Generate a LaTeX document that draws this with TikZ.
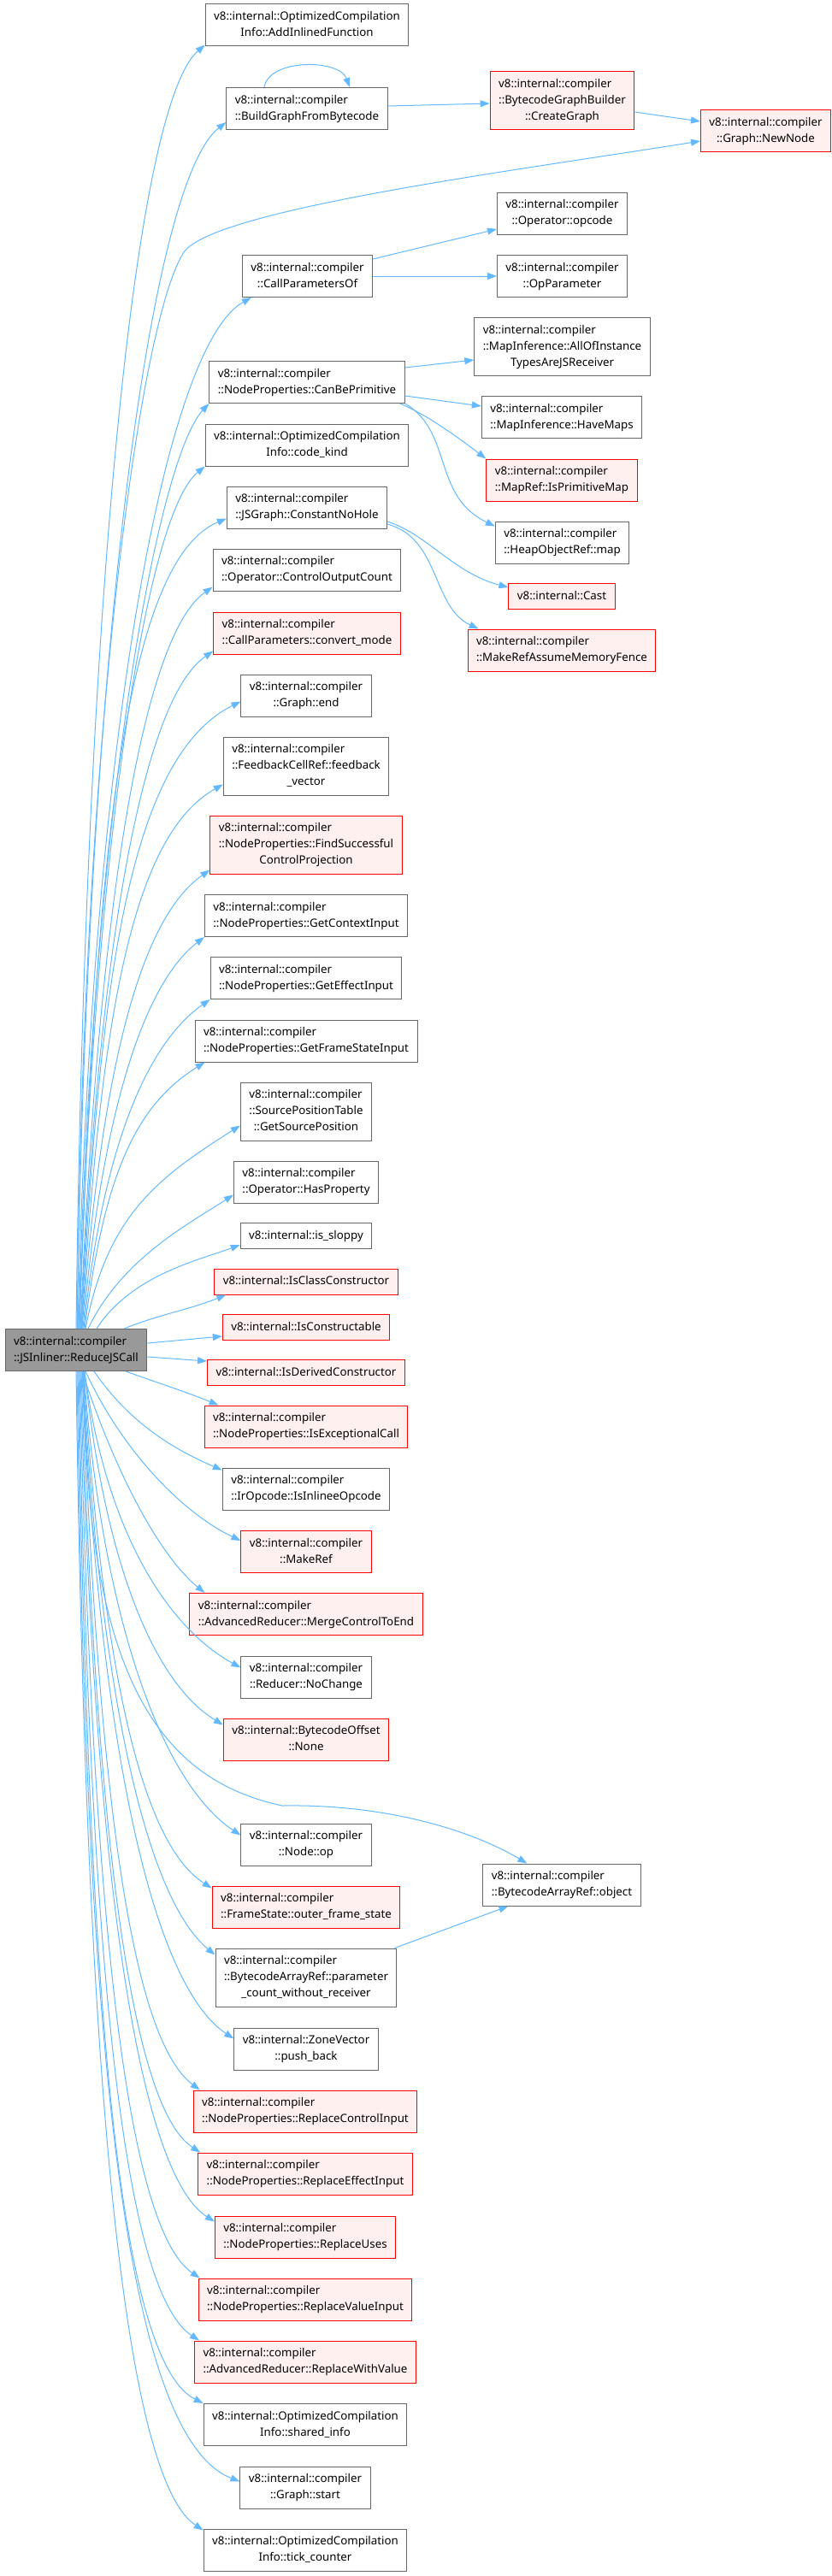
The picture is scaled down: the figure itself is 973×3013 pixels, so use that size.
\documentclass[tikz,border=0pt]{standalone}
\usepackage{fontspec}
\setmainfont{Noto Sans}
\usepackage{xcolor}
\usepackage{tikz}
\usetikzlibrary{arrows.meta,calc}
\definecolor{edgeblue}{HTML}{63B8FF}
\definecolor{nodeedge}{HTML}{666666}
\definecolor{rootfill}{HTML}{999999}
\definecolor{redfill}{HTML}{FFF0F0}
\definecolor{rededge}{HTML}{FF0000}
\newcommand{\lastln}[1]{\multicolumn{1}{@{}c@{}}{#1}}
\newcommand{\fnbox}[1]{\begin{tabular}{@{}l@{}}#1\end{tabular}}
\tikzset{
  fn/.style={draw=nodeedge, fill=white, rectangle, line width=1pt,
             inner xsep=10pt, inner ysep=5.5pt, font=\fontsize{13.3}{19}\selectfont},
  fnred/.style={fn, draw=rededge, fill=redfill},
  fnroot/.style={fn, fill=rootfill},
  call/.style={draw=edgeblue, line width=1pt, -{Triangle[length=11pt,width=8pt]}},
}

\begin{document}
\begin{tikzpicture}[x=1pt,y=1pt]
  \useasboundingbox (0,0) rectangle (973,-3013);
  % caller
  \node[fnroot] (root) at (89,-1579) {\fnbox{v8::internal::compiler\\\lastln{::JSInliner::ReduceJSCall}}};
  % callees, top to bottom
  \node[fn]    (addinl) at (359,-29.5)  {\fnbox{v8::internal::OptimizedCompilation\\\lastln{Info::AddInlinedFunction}}};
  \node[fn]    (buildg) at (359,-127)   {\fnbox{v8::internal::compiler\\\lastln{::BuildGraphFromBytecode}}};
  \node[fnred] (crgraph) at (657.5,-118) {\fnbox{v8::internal::compiler\\::BytecodeGraphBuilder\\\lastln{::CreateGraph}}};
  \node[fnred] (newnode) at (895.5,-153.5) {\fnbox{v8::internal::compiler\\\lastln{::Graph::NewNode}}};
  \node[fn]    (opcode) at (657.5,-249.5) {\fnbox{v8::internal::compiler\\\lastln{::Operator::opcode}}};
  \node[fn]    (opparam) at (657.5,-323) {\fnbox{v8::internal::compiler\\\lastln{::OpParameter}}};
  \node[fn]    (cpof) at (359.5,-323)    {\fnbox{v8::internal::compiler\\\lastln{::CallParametersOf}}};
  \node[fn]    (allof) at (657.5,-405.5) {\fnbox{v8::internal::compiler\\::MapInference::AllOfInstance\\\lastln{TypesAreJSReceiver}}};
  \node[fn]    (canbe) at (359,-447)     {\fnbox{v8::internal::compiler\\\lastln{::NodeProperties::CanBePrimitive}}};
  \node[fn]    (havemaps) at (657,-488)  {\fnbox{v8::internal::compiler\\\lastln{::MapInference::HaveMaps}}};
  \node[fn]    (codek) at (359,-520.5)   {\fnbox{v8::internal::OptimizedCompilation\\\lastln{Info::code\_kind}}};
  \node[fnred] (isprim) at (657,-561.5)  {\fnbox{v8::internal::compiler\\\lastln{::MapRef::IsPrimitiveMap}}};
  \node[fn]    (cnh) at (359,-593.5)     {\fnbox{v8::internal::compiler\\\lastln{::JSGraph::ConstantNoHole}}};
  \node[fn]    (homap) at (657.5,-634.5) {\fnbox{v8::internal::compiler\\\lastln{::HeapObjectRef::map}}};
  \node[fn]    (coc) at (359,-666.5)     {\fnbox{v8::internal::compiler\\\lastln{::Operator::ControlOutputCount}}};
  \node[fnred] (cast) at (657,-697.5)    {\fnbox{v8::internal::Cast}};
  \node[fnred] (convm) at (359,-740.5)   {\fnbox{v8::internal::compiler\\\lastln{::CallParameters::convert\_mode}}};
  \node[fnred] (mkfence) at (657,-760.5) {\fnbox{v8::internal::compiler\\\lastln{::MakeRefAssumeMemoryFence}}};
  \node[fn]    (gend) at (358,-813.5)    {\fnbox{v8::internal::compiler\\\lastln{::Graph::end}}};
  \node[fn]    (fbv) at (358,-896)       {\fnbox{v8::internal::compiler\\::FeedbackCellRef::feedback\\\lastln{\_vector}}};
  \node[fnred] (fsc) at (358,-988)       {\fnbox{v8::internal::compiler\\::NodeProperties::FindSuccessful\\\lastln{ControlProjection}}};
  \node[fn]    (gci) at (358,-1071)      {\fnbox{v8::internal::compiler\\\lastln{::NodeProperties::GetContextInput}}};
  \node[fn]    (gei) at (358,-1144)      {\fnbox{v8::internal::compiler\\\lastln{::NodeProperties::GetEffectInput}}};
  \node[fn]    (gfsi) at (358,-1217.5)   {\fnbox{v8::internal::compiler\\\lastln{::NodeProperties::GetFrameStateInput}}};
  \node[fn]    (gsp) at (358,-1300)      {\fnbox{v8::internal::compiler\\::SourcePositionTable\\\lastln{::GetSourcePosition}}};
  \node[fn]    (hasp) at (358,-1382.5)   {\fnbox{v8::internal::compiler\\\lastln{::Operator::HasProperty}}};
  \node[fn]    (sloppy) at (358,-1445.5) {\fnbox{v8::internal::is\_sloppy}};
  \node[fnred] (iscc) at (358,-1499)     {\fnbox{v8::internal::IsClassConstructor}};
  \node[fnred] (iscons) at (358,-1552.5) {\fnbox{v8::internal::IsConstructable}};
  \node[fnred] (isdc) at (358,-1605.5)   {\fnbox{v8::internal::IsDerivedConstructor}};
  \node[fnred] (isexc) at (358,-1668.5)  {\fnbox{v8::internal::compiler\\\lastln{::NodeProperties::IsExceptionalCall}}};
  \node[fn]    (isinl) at (358,-1741.5)  {\fnbox{v8::internal::compiler\\\lastln{::IrOpcode::IsInlineeOpcode}}};
  \node[fnred] (mkref) at (358,-1815)    {\fnbox{v8::internal::compiler\\\lastln{::MakeRef}}};
  \node[fnred] (mcte) at (358,-1888)     {\fnbox{v8::internal::compiler\\\lastln{::AdvancedReducer::MergeControlToEnd}}};
  \node[fn]    (nochg) at (358,-1961.5)  {\fnbox{v8::internal::compiler\\\lastln{::Reducer::NoChange}}};
  \node[fnred] (none) at (358,-2034.5)   {\fnbox{v8::internal::BytecodeOffset\\\lastln{::None}}};
  \node[fn]    (nop) at (358,-2157.5)    {\fnbox{v8::internal::compiler\\\lastln{::Node::op}}};
  \node[fn]    (object) at (657,-2204.5) {\fnbox{v8::internal::compiler\\\lastln{::BytecodeArrayRef::object}}};
  \node[fnred] (ofs) at (358,-2230.5)    {\fnbox{v8::internal::compiler\\\lastln{::FrameState::outer\_frame\_state}}};
  \node[fn]    (pcwr) at (358,-2313)     {\fnbox{v8::internal::compiler\\::BytecodeArrayRef::parameter\\\lastln{\_count\_without\_receiver}}};
  \node[fn]    (pushb) at (358,-2396.5)  {\fnbox{v8::internal::ZoneVector\\\lastln{::push\_back}}};
  \node[fnred] (rci) at (357,-2469.5)    {\fnbox{v8::internal::compiler\\\lastln{::NodeProperties::ReplaceControlInput}}};
  \node[fnred] (rei) at (357,-2542.5)    {\fnbox{v8::internal::compiler\\\lastln{::NodeProperties::ReplaceEffectInput}}};
  \node[fnred] (ru) at (357,-2616.5)     {\fnbox{v8::internal::compiler\\\lastln{::NodeProperties::ReplaceUses}}};
  \node[fnred] (rvi) at (357,-2689.5)    {\fnbox{v8::internal::compiler\\\lastln{::NodeProperties::ReplaceValueInput}}};
  \node[fnred] (rwv) at (357,-2762.5)    {\fnbox{v8::internal::compiler\\\lastln{::AdvancedReducer::ReplaceWithValue}}};
  \node[fn]    (shinf) at (357,-2836)    {\fnbox{v8::internal::OptimizedCompilation\\\lastln{Info::shared\_info}}};
  \node[fn]    (gstart) at (357,-2909.5) {\fnbox{v8::internal::compiler\\\lastln{::Graph::start}}};
  \node[fn]    (tick) at (357,-2982.5)   {\fnbox{v8::internal::OptimizedCompilation\\\lastln{Info::tick\_counter}}};

  % calls going up
  \draw[call] ([xshift=0]root.north) .. controls +(10,826) and ($(addinl.south west)+(-84,-71)$) .. ([yshift=2]addinl.south west);
  \draw[call] ([xshift=1]root.north) .. controls +(12,777) and ($(buildg.south west)+(-91,-62)$) .. ([yshift=9]buildg.south west);
  \draw[call] ([xshift=1.5]root.north) .. controls (95,-900) and (160,-380) .. (215,-295)
              .. controls (250,-245) and (600,-200) .. ([yshift=-11.5]newnode.west);
  \draw[call] ([xshift=2]root.north) .. controls +(15,664) and ($(cpof.south west)+(-93,-58)$) .. ([xshift=11]cpof.south west);
  \draw[call] ([xshift=3]root.north) .. controls +(15,596) and ($(canbe.south west)+(-61,-66)$) .. (canbe.south west);
  \draw[call] ([xshift=3.5]root.north) .. controls +(18,555) and ($(codek.south west)+(-70,-57)$) .. (codek.south west);
  \draw[call] ([xshift=4]root.north) .. controls +(18,521) and ($(cnh.south west)+(-124,-40)$) .. ([yshift=12]cnh.south west);
  \draw[call] ([xshift=5]root.north) .. controls +(20,477) and ($(coc.south west)+(-84,-54)$) .. ([yshift=5]coc.south west);
  \draw[call] ([xshift=5.5]root.north) .. controls +(20,436) and ($(convm.south west)+(-84,-54)$) .. ([yshift=4]convm.south west);
  \draw[call] ([xshift=6]root.north) .. controls +(22,404) and ($(gend.south west)+(-132,-48)$) .. ([yshift=18]gend.south west);
  \draw[call] ([xshift=6.5]root.north) .. controls +(22,350) and ($(fbv.south west)+(-110,-49)$) .. ([yshift=13]fbv.south west);
  \draw[call] ([xshift=7]root.north) .. controls +(22,295) and ($(fsc.south west)+(-84,-54)$) .. ([yshift=5]fsc.south west);
  \draw[call] ([xshift=8]root.north) .. controls +(22,252) and ($(gci.south west)+(-71,-55)$) .. (gci.south west);
  \draw[call] ([xshift=9]root.north) .. controls +(22,212) and ($(gei.south west)+(-74,-52)$) .. (gei.south west);
  \draw[call] ([xshift=10]root.north) .. controls +(22,172) and ($(gfsi.south west)+(-73,-53)$) .. ([xshift=12]gfsi.south west);
  \draw[call] ([xshift=11]root.north) .. controls +(25,130) and ($(gsp.south west)+(-100,-45)$) .. ([yshift=18]gsp.south west);
  \draw[call] ([xshift=14]root.north) .. controls +(39,81) and ($(hasp.south west)+(-54,-25)$) .. ([yshift=10]hasp.south west);
  \draw[call] ([xshift=24]root.north) .. controls +(41,63) and ($(sloppy.south west)+(-48,-13)$) .. ([yshift=5]sloppy.south west);
  \draw[call] ([xshift=56]root.north) .. controls +(46,18) and ($(iscc.south west)+(-31,-18)$) .. ([xshift=14]iscc.south west);
  % calls to the side
  \draw[call] ([yshift=8]root.east) -- ([yshift=5]iscons.south west);
  \draw[call] ([yshift=-8]root.east) -- ([yshift=-2]isdc.north west);
  % calls going down
  \draw[call] ([xshift=58]root.south) .. controls +(42,-15) and ($(isexc.north west)+(-25,17)$) .. ([xshift=17]isexc.north west);
  \draw[call] ([xshift=21]root.south) .. controls +(42,-61) and ($(isinl.north west)+(-56,21)$) .. ([yshift=-3]isinl.north west);
  \draw[call] ([xshift=11]root.south) .. controls +(44,-95) and ($(mkref.north west)+(-67,20)$) .. ([yshift=-12]mkref.north west);
  \draw[call] ([xshift=7]root.south) .. controls +(37,-114) and ($(mcte.north west)+(-36,44)$) .. ([xshift=18]mcte.north west);
  \draw[call] ([xshift=10]root.south) .. controls +(25,-190) and ($(nochg.north west)+(-84,32)$) .. ([yshift=-14]nochg.north west);
  \draw[call] ([xshift=10]root.south) .. controls +(24,-228) and ($(none.north west)+(-80,41)$) .. ([yshift=-8]none.north west);
  \draw[call] ([xshift=9]root.south) .. controls +(22,-299) and ($(nop.north west)+(-89,45)$) .. ([yshift=-14]nop.north west);
  \draw[call] ([xshift=9]root.south) .. controls (100,-1950) and (180,-2080) .. (330,-2112)
              .. controls (450,-2110) and (550,-2140) .. ([xshift=52]object.north west);
  \draw[call] ([xshift=8.5]root.south) .. controls +(22,-333) and ($(ofs.north west)+(-86,52)$) .. ([yshift=-3]ofs.north west);
  \draw[call] ([xshift=8]root.south) .. controls +(20,-376) and ($(pcwr.north west)+(-81,59)$) .. ([yshift=-8]pcwr.north west);
  \draw[call] ([xshift=7.5]root.south) .. controls +(20,-430) and ($(pushb.north west)+(-97,52)$) .. ([yshift=-13]pushb.north west);
  \draw[call] ([xshift=7]root.south) .. controls +(18,-461) and ($(rci.north west)+(-77,64)$) .. ([xshift=8]rci.north west);
  \draw[call] ([xshift=6]root.south) .. controls +(16,-502) and ($(rei.north west)+(-83,56)$) .. ([xshift=3]rei.north west);
  \draw[call] ([xshift=5]root.south) .. controls +(15,-547) and ($(ru.north west)+(-95,55)$) .. ([yshift=-7]ru.north west);
  \draw[call] ([xshift=4]root.south) .. controls +(14,-583) and ($(rvi.north west)+(-90,63)$) .. ([xshift=2]rvi.north west);
  \draw[call] ([xshift=3]root.south) .. controls +(12,-623) and ($(rwv.north west)+(-90,63)$) .. ([xshift=6]rwv.north west);
  \draw[call] ([xshift=2]root.south) .. controls +(12,-664) and ($(shinf.north west)+(-107,54)$) .. (shinf.north west);
  \draw[call] ([xshift=1]root.south) .. controls +(10,-714) and ($(gstart.north west)+(-145,39)$) .. ([yshift=-18]gstart.north west);
  \draw[call] ([xshift=0]root.south) .. controls +(10,-746) and ($(tick.north west)+(-101,65)$) .. ([yshift=-2]tick.north west);
  % second level
  \draw[call] ([xshift=-50]buildg.north) .. controls +(6,34) and ($(buildg.north)+(38,33)$) .. ([xshift=50]buildg.north);
  \draw[call] ([yshift=3]buildg.east) -- ([yshift=-3]crgraph.west);
  \draw[call] ([yshift=-13]crgraph.east) -- ([yshift=11.5]newnode.west);
  \draw[call] ([yshift=20]cpof.east) -- ([yshift=-18.5]opcode.west);
  \draw[call] (cpof) -- (opparam);
  \draw[call] ([yshift=17]canbe.east) -- ([yshift=-15.5]allof.west);
  \draw[call] ([yshift=-16]canbe.east) -- ([yshift=13]havemaps.west);
  \draw[call] ([xshift=-6]canbe.south east) .. controls (500,-485) and (540,-515) .. (isprim.north west);
  \draw[call] (canbe.south east) .. controls (530,-505) and (505,-580) .. ([yshift=-6]homap.north west);
  \draw[call] ([yshift=-16.5]cnh.east) .. controls (500,-625) and (530,-670) .. ([yshift=10.5]cast.west);
  \draw[call] ([yshift=-19.5]cnh.east) .. controls (515,-630) and (505,-710) .. ([xshift=13]mkfence.north west);
  \draw[call] ([xshift=-3]pcwr.north east) -- ([xshift=30]object.south west);
\end{tikzpicture}
\end{document}
